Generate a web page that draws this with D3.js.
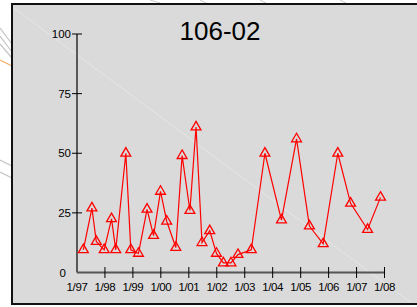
<!DOCTYPE html>
<html>
<head>
<meta charset="utf-8">
<script src="https://cdn.jsdelivr.net/npm/d3@7"></script>
<style>
  body { margin: 0; background: #fff; }
  svg { display: block; font-family: "Liberation Sans", Arial, sans-serif; }
</style>
</head>
<body>
<svg id="chart"></svg>
<script>
// sample dates and values
var dates = ["1997-03-25", "1997-07-15", "1997-09-10", "1997-12-22", "1998-03-28", "1998-05-22",
    "1998-10-01", "1998-12-05", "1999-03-15", "1999-07-05", "1999-09-28", "1999-12-28",
    "2000-03-18", "2000-07-15", "2000-10-05", "2001-01-15", "2001-04-05", "2001-06-22",
    "2001-10-01", "2001-12-28", "2002-03-28", "2002-07-05", "2002-10-05", "2003-03-28",
    "2003-09-22", "2004-04-25", "2004-11-08", "2005-04-25", "2005-10-22", "2006-05-01",
    "2006-10-15", "2007-05-25", "2007-11-10"];
var values = [9.5, 27, 13, 9.5, 22.5, 9.5,
    50, 9.5, 8, 26.5, 15.5, 34,
    21.5, 10.5, 49, 26, 61, 12.5,
    17.5, 8, 4, 4, 7.5, 9.5,
    50, 22, 56, 19.5, 12, 50,
    29, 18, 31.5];
var yTicks = [25, 50, 75, 100];
var title = "106-02";

var W = 417, H = 307;
var svg = d3.select('svg#chart').attr('width', W).attr('height', H);

// faint background strokes outside the panel
var deco = svg.append('g').attr('fill', 'none');
[[0, 28, 12, 44], [0, 36, 12, 52], [0, 44, 12, 58], [0, 160, 12, 166], [0, 172, 12, 178]].forEach(function(d){
    deco.append('line').attr('x1', d[0]).attr('y1', d[1]).attr('x2', d[2]).attr('y2', d[3])
    .attr('stroke', '#c4c4c4').attr('stroke-width', 1.2);
});
deco.append('line').attr('x1', 0).attr('y1', 60).attr('x2', 12).attr('y2', 66)
.attr('stroke', '#f5b06a').attr('stroke-width', 1.2);
[[150, 0, 160, 3], [200, 0, 206, 3], [260, 0, 266, 3], [340, 0, 346, 3]].forEach(function(d){
    deco.append('line').attr('x1', d[0]).attr('y1', d[1]).attr('x2', d[2]).attr('y2', d[3])
    .attr('stroke', '#c8c8c8').attr('stroke-width', 1);
});

// panel
svg.append('rect')
.attr('x', 12).attr('y', 4).attr('width', W).attr('height', 300)
.attr('fill', '#dadada').attr('stroke', '#111').attr('stroke-width', 2);
svg.append('line')
.attr('x1', 14).attr('y1', 8).attr('x2', 410).attr('y2', 302)
.attr('stroke', '#e6e6e6').attr('stroke-width', 1);

var parse = d3.timeParse('%Y-%m-%d');
var x = d3.scaleTime()
.domain([new Date(1997, 0, 1), new Date(2008, 0, 1)])
.range([77, 384.5]);
var y = d3.scaleLinear().domain([0, 100]).range([272.5, 34]);

// title
svg.append('text')
.attr('x', 220).attr('y', 40)
.attr('text-anchor', 'middle')
.style('font-size', '26px')
.text(title);

// y axis
var yAxis = svg.append('g');
yAxis.append('line')
.attr('x1', 77).attr('x2', 77).attr('y1', y(100)).attr('y2', y(0))
.attr('stroke', '#000').attr('stroke-width', 1.2);
yAxis.selectAll('line.tick').data(yTicks).enter().append('line')
.attr('class', 'tick')
.attr('x1', 72).attr('x2', 82)
.attr('y1', function(d){ return y(d); }).attr('y2', function(d){ return y(d); })
.attr('stroke', '#000');
yAxis.selectAll('text').data(yTicks).enter().append('text')
.attr('x', 71).attr('y', function(d){ return y(d) + 4; })
.attr('text-anchor', 'end')
.style('font-size', '11.5px')
.text(function(d){ return d; });
yAxis.append('text')
.attr('x', 66).attr('y', y(0) + 4)
.attr('text-anchor', 'end')
.style('font-size', '11.5px')
.text('0');

// x axis
var xTicks = x.ticks(d3.timeYear.every(1));
var xAxis = svg.append('g');
xAxis.append('line')
.attr('x1', 77).attr('x2', x.range()[1]).attr('y1', y(0)).attr('y2', y(0))
.attr('stroke', '#555').attr('stroke-width', 2);
xAxis.selectAll('line.tick').data(xTicks.slice(1)).enter().append('line')
.attr('class', 'tick')
.attr('x1', function(d){ return x(d); }).attr('x2', function(d){ return x(d); })
.attr('y1', 267).attr('y2', 278)
.attr('stroke', '#000');
xAxis.selectAll('text').data(xTicks).enter().append('text')
.attr('x', function(d){ return x(d); }).attr('y', 291)
.attr('text-anchor', 'middle')
.style('font-size', '11.5px')
.style('letter-spacing', '-0.4px')
.text(d3.timeFormat('%-m/%y'));

// series
var data = dates.map(function(d, i){ return {date: parse(d), value: values[i]}; });
var line = d3.line()
.x(function(d){ return x(d.date); })
.y(function(d){ return y(d.value); });

svg.append('path')
.datum(data)
.attr('d', line)
.attr('fill', 'none')
.attr('stroke', '#ff0000')
.attr('stroke-width', 1.2);

svg.append('g').selectAll('path').data(data).enter().append('path')
.attr('d', d3.symbol().type(d3.symbolTriangle).size(42))
.attr('transform', function(d){ return 'translate(' + x(d.date) + ',' + y(d.value) + ')'; })
.attr('fill', 'none')
.attr('stroke', '#ff0000')
.attr('stroke-width', 1.3);
</script>
</body>
</html>
